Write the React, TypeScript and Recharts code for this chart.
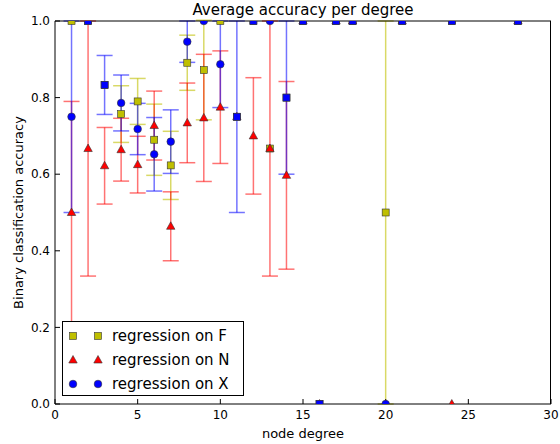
import { ScatterChart, Scatter, XAxis, YAxis, ErrorBar } from "recharts";

// node degree and per-degree accuracy (mean, error) for each regression
const DEGREES = [1, 2, 3, 4, 5, 6, 7, 8, 9, 10, 11, 12, 13, 14, 15, 16, 17, 18, 20, 21, 24, 28];
const F_ACC = [1, 1, 0.833, 0.757, 0.79, 0.69, 0.623, 0.891, 0.872, 1, 0.75, 1, 0.667, 0.8, 1, 0, 1, 1, 0.5, 1, 1, 1];
const F_ERR = [0, 0, 0, 0.074, 0.06, 0.093, 0.089, 0.072, 0.13, 0, 0, 0, 0, 0, 0, 0, 0, 0, 0.5, 0, 0, 0];
const N_ACC = [0.5, 0.667, 0.622, 0.664, 0.625, 0.727, 0.464, 0.734, 0.747, 0.775, 0.75, 0.7, 0.667, 0.597, 1, 0, 1, 1, 0, 1, 0, 1];
const N_ERR = [0.29, 0.333, 0.1, 0.082, 0.074, 0.09, 0.09, 0.104, 0.166, 0.147, 0, 0.152, 0.333, 0.245, 0, 0, 0, 0, 0, 0, 0, 0];
const X_ACC = [0.75, 1, 0.833, 0.786, 0.718, 0.652, 0.685, 0.946, 1, 0.887, 0.75, 1, 1, 0.8, 1, 0, 1, 1, 0, 1, 1, 1];
const X_ERR = [0.25, 0, 0.077, 0.073, 0.067, 0.096, 0.083, 0.054, 0, 0.113, 0.25, 0, 0, 0.2, 0, 0, 0, 0, 0, 0, 0, 0];

const X_TICKS = [0, 5, 10, 15, 20, 25, 30];
const Y_TICKS = [0, 0.2, 0.4, 0.6, 0.8, 1.0];

const YELLOW = "#bfbf00";
const RED = "#ff0000";
const BLUE = "#0000ff";
const FONT = "'DejaVu Sans', sans-serif";

const toRows = (acc: number[], err: number[]) =>
  DEGREES.map((d, i) => ({ deg: d, acc: acc[i], err: err[i], sq: acc[i] === F_ACC[i] }));

const fData = toRows(F_ACC, F_ERR);
const nData = toRows(N_ACC, N_ERR);
const xData = toRows(X_ACC, X_ERR);

function Square({ cx, cy, fill }: any) {
  return <rect x={cx - 3.5} y={cy - 3.5} width={7} height={7} fill={fill} stroke="#333" strokeWidth={0.6} />;
}

function Triangle({ cx, cy, fill }: any) {
  return (
    <polygon
      points={`${cx},${cy - 4.5} ${cx - 4.2},${cy + 3} ${cx + 4.2},${cy + 3}`}
      fill={fill}
      stroke="#333"
      strokeWidth={0.6}
    />
  );
}

function Dot({ cx, cy, fill, payload }: any) {
  // where X coincides with F the marker shows as a blue square
  if (payload && payload.sq) return <Square cx={cx} cy={cy} fill={fill} />;
  return <circle cx={cx} cy={cy} r={3.8} fill={fill} stroke="#333" strokeWidth={0.6} />;
}

const tickStyle = { fontSize: 12, fill: "#000", fontFamily: FONT };

function LegendBox() {
  const items = [
    { label: "regression on F", color: YELLOW, kind: "s" },
    { label: "regression on N", color: RED, kind: "t" },
    { label: "regression on X", color: BLUE, kind: "c" },
  ];
  return (
    <div
      style={{
        position: "absolute",
        left: 62,
        top: 321,
        width: 182,
        height: 75,
        border: "1px solid #000",
        background: "#fff",
        boxSizing: "border-box",
        fontFamily: FONT,
        fontSize: 15,
        paddingTop: 2,
      }}
    >
      {items.map((it) => (
        <div key={it.label} style={{ display: "flex", alignItems: "center", height: 24 }}>
          <svg width={48} height={20} style={{ marginLeft: 1 }}>
            {[9, 34].map((cx) =>
              it.kind === "s" ? (
                <Square key={cx} cx={cx} cy={10} fill={it.color} />
              ) : it.kind === "t" ? (
                <Triangle key={cx} cx={cx} cy={10} fill={it.color} />
              ) : (
                <circle key={cx} cx={cx} cy={10} r={3.8} fill={it.color} stroke="#333" strokeWidth={0.6} />
              )
            )}
          </svg>
          <span>{it.label}</span>
        </div>
      ))}
    </div>
  );
}

export default function App() {
  return (
    <div style={{ position: "relative", width: 560, height: 444, background: "#fff" }}>
      <style>{"body{margin:0}"}</style>
      <div
        style={{
          position: "absolute",
          left: 55,
          width: 496,
          top: 1,
          textAlign: "center",
          fontFamily: FONT,
          fontSize: 15,
          lineHeight: "18px",
        }}
      >
        Average accuracy per degree
      </div>
      <ScatterChart width={560} height={444} margin={{ top: 0, right: 9, bottom: 0, left: 0 }}>
        <XAxis
          type="number"
          dataKey="deg"
          domain={[0, 30]}
          ticks={X_TICKS}
          allowDataOverflow
          tick={tickStyle}
          tickSize={-5}
          tickMargin={11}
          stroke="#000"
          height={40}
          label={{ value: "node degree", position: "insideBottom", offset: 6, fontSize: 13, fill: "#000", fontFamily: FONT }}
        />
        <XAxis
          xAxisId="top"
          orientation="top"
          type="number"
          domain={[0, 30]}
          ticks={X_TICKS}
          tick={false}
          tickSize={-5}
          stroke="#000"
          height={21}
        />
        <YAxis
          type="number"
          dataKey="acc"
          domain={[0, 1]}
          ticks={Y_TICKS}
          allowDataOverflow
          tickFormatter={(v) => Number(v).toFixed(1)}
          tick={tickStyle}
          tickSize={-5}
          tickMargin={10}
          stroke="#000"
          width={55}
          label={{
            value: "Binary classification accuracy",
            angle: -90,
            position: "insideLeft",
            offset: 18,
            fontSize: 13,
            fill: "#000",
            fontFamily: FONT,
            style: { textAnchor: "middle" },
          }}
        />
        <Scatter data={fData} fill={YELLOW} shape={Square} isAnimationActive={false}>
          <ErrorBar dataKey="err" direction="y" width={8} stroke={YELLOW} strokeOpacity={0.6} strokeWidth={1.5} />
        </Scatter>
        <Scatter data={nData} fill={RED} shape={Triangle} isAnimationActive={false}>
          <ErrorBar dataKey="err" direction="y" width={8} stroke={RED} strokeOpacity={0.55} strokeWidth={1.5} />
        </Scatter>
        <Scatter data={xData} fill={BLUE} shape={Dot} isAnimationActive={false}>
          <ErrorBar dataKey="err" direction="y" width={8} stroke={BLUE} strokeOpacity={0.55} strokeWidth={1.5} />
        </Scatter>
      </ScatterChart>
      {/* right edge of the axes frame */}
      <div style={{ position: "absolute", left: 550, top: 21, width: 1, height: 383, background: "#000" }} />
      <LegendBox />
    </div>
  );
}
